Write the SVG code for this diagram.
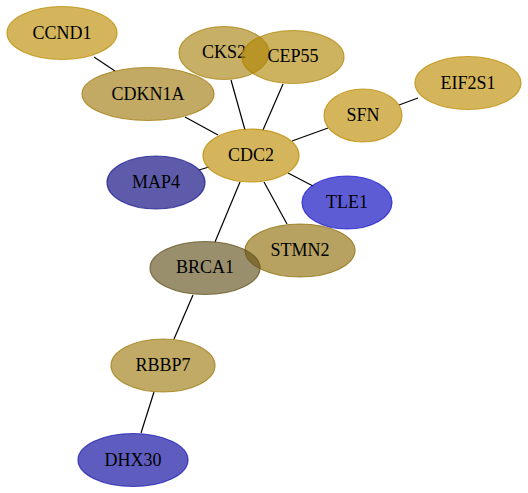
<svg xmlns="http://www.w3.org/2000/svg" width="528" height="493" viewBox="0 0 528 493">
<style>
.e{stroke:#000;stroke-width:1.2;fill:none}
.n ellipse{fill-opacity:0.64;stroke-width:1.2;stroke-opacity:0.75}
.n text{font-family:"Liberation Serif","Times New Roman",serif;font-size:18px;text-anchor:middle;fill:#000}
</style>
<rect width="528" height="493" fill="#fff"/>
<g id="edges">
<line class="e" x1="94" y1="57" x2="115" y2="71"/>
<line class="e" x1="231" y1="80" x2="245" y2="130"/>
<line class="e" x1="283" y1="84" x2="263" y2="130"/>
<line class="e" x1="185" y1="117" x2="218" y2="135"/>
<line class="e" x1="328" y1="128" x2="292" y2="141"/>
<line class="e" x1="399" y1="105" x2="418" y2="98"/>
<line class="e" x1="199" y1="170" x2="209" y2="167"/>
<line class="e" x1="288" y1="173" x2="313" y2="186"/>
<line class="e" x1="264" y1="182" x2="287" y2="224"/>
<line class="e" x1="240" y1="182" x2="215" y2="242"/>
<line class="e" x1="193" y1="295" x2="174" y2="339"/>
<line class="e" x1="154" y1="392" x2="141" y2="433"/>
</g>
<g id="CCND1" class="n"><ellipse cx="62" cy="33" rx="55" ry="26.5" fill="#bc8b00" stroke="#bc8b00"/><text x="62" y="39">CCND1</text></g>
<g id="CDKN1A" class="n"><ellipse cx="148" cy="94" rx="66" ry="26.5" fill="#a07a0c" stroke="#a07a0c"/><text x="148" y="100">CDKN1A</text></g>
<g id="CKS2" class="n"><ellipse cx="224" cy="53" rx="45" ry="26.5" fill="#a7820e" stroke="#a7820e"/><text x="224" y="58">CKS2</text></g>
<g id="CEP55" class="n"><ellipse cx="293" cy="57" rx="51" ry="26.5" fill="#b08606" stroke="#b08606"/><text x="293" y="62">CEP55</text></g>
<g id="EIF2S1" class="n"><ellipse cx="468" cy="83" rx="53" ry="26.5" fill="#bc8b00" stroke="#bc8b00"/><text x="468" y="89">EIF2S1</text></g>
<g id="SFN" class="n"><ellipse cx="363" cy="115.5" rx="39" ry="26.5" fill="#bc8b00" stroke="#bc8b00"/><text x="363" y="121">SFN</text></g>
<g id="CDC2" class="n"><ellipse cx="251" cy="155.5" rx="48" ry="26.5" fill="#bc8b00" stroke="#bc8b00"/><text x="251" y="161">CDC2</text></g>
<g id="MAP4" class="n"><ellipse cx="156" cy="182.5" rx="49" ry="26.5" fill="#03007a" stroke="#1a1a90"/><text x="156" y="188">MAP4</text></g>
<g id="TLE1" class="n"><ellipse cx="347" cy="202.5" rx="45" ry="26.5" fill="#0300bc" stroke="#1a18d0"/><text x="347" y="208">TLE1</text></g>
<g id="STMN2" class="n"><ellipse cx="300" cy="250.5" rx="55" ry="26.5" fill="#8f6e08" stroke="#8f6e08"/><text x="300" y="256">STMN2</text></g>
<g id="BRCA1" class="n"><ellipse cx="205" cy="268" rx="55" ry="26.5" fill="#60501a" stroke="#60501a"/><text x="205" y="273">BRCA1</text></g>
<g id="RBBP7" class="n"><ellipse cx="163" cy="365.5" rx="52" ry="26.5" fill="#9d7a0e" stroke="#9d7a0e"/><text x="163" y="371">RBBP7</text></g>
<g id="DHX30" class="n"><ellipse cx="133" cy="460" rx="55" ry="26.5" fill="#03009a" stroke="#1a18b0"/><text x="133" y="466">DHX30</text></g>
</svg>
